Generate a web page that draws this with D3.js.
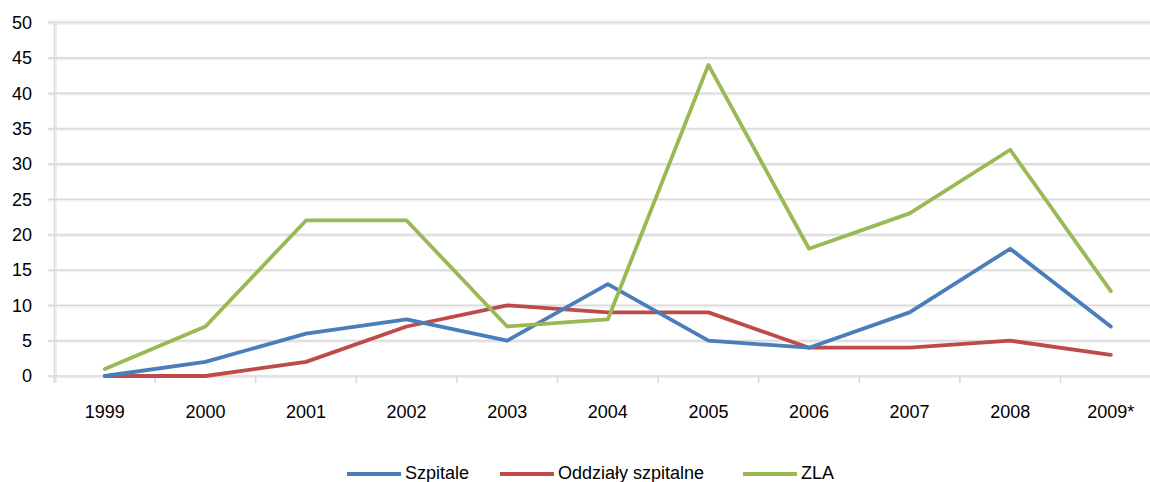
<!DOCTYPE html>
<html><head><meta charset="utf-8">
<script src="https://cdn.jsdelivr.net/npm/d3@7"></script>
<style>body{margin:0;background:#fff}svg{display:block}</style>
</head><body>
<script>
const categories = ["1999","2000","2001","2002","2003","2004","2005","2006","2007","2008","2009*"];
const seriesNames = ["Szpitale","Oddziały szpitalne","ZLA"];
const szpitale = [0,2,6,8,5,13,5,4,9,18,7];
const oddzialy = [0,0,2,7,10,9,9,4,4,5,3];
const zla = [1,7,22,22,7,8,44,18,23,32,12];
const yTicks = [0,5,10,15,20,25,30,35,40,45,50];
const colors = ["#4a7ebb","#be4b48","#98b954"];

const W=1150,H=482;
const svg=d3.select("body").append("svg").attr("width",W).attr("height",H);

const left=54.5, step=100.6;
const x=d3.scaleBand().domain(categories).range([left,left+step*categories.length]).paddingInner(0).paddingOuter(0);
const y=d3.scaleLinear().domain([0,50]).range([376,22.5]);
const font="'Liberation Sans', Arial, sans-serif";
const gridCol="#d9d9d9", shCol="#efefef";

const g=svg.append("g");
g.selectAll("line.gs").data(yTicks).join("line")
 .attr("x1",48).attr("x2",W).attr("y1",d=>y(d)+1.6).attr("y2",d=>y(d)+1.6)
 .attr("stroke",shCol).attr("stroke-width",1.5);
g.append("line").attr("x1",48).attr("x2",W).attr("y1",y(50)-1.8).attr("y2",y(50)-1.8)
 .attr("stroke","#f2f2f2").attr("stroke-width",2);
g.append("line").attr("x1",left+1.8).attr("x2",left+1.8).attr("y1",y(50)).attr("y2",y(0)+7)
 .attr("stroke",shCol).attr("stroke-width",1.5);
g.selectAll("line.grid").data(yTicks).join("line")
 .attr("x1",48).attr("x2",W).attr("y1",d=>y(d)).attr("y2",d=>y(d))
 .attr("stroke",gridCol).attr("stroke-width",1.6);
g.append("line").attr("x1",left).attr("x2",left).attr("y1",y(50)).attr("y2",y(0)+7)
 .attr("stroke",gridCol).attr("stroke-width",1.6);
const bounds=d3.range(categories.length+1).map(i=>left+i*step);
g.selectAll("line.xt").data(bounds).join("line")
 .attr("x1",d=>d).attr("x2",d=>d).attr("y1",y(0)).attr("y2",y(0)+7)
 .attr("stroke",gridCol).attr("stroke-width",1.6);

svg.append("g").selectAll("text").data(yTicks).join("text")
 .attr("x",32).attr("y",d=>y(d)).attr("dy","0.35em").attr("text-anchor","end")
 .attr("font-family",font).attr("font-size",18).attr("fill","#000").text(d=>d);
svg.append("g").selectAll("text").data(categories).join("text")
 .attr("x",d=>x(d)+x.bandwidth()/2).attr("y",418).attr("text-anchor","middle")
 .attr("font-family",font).attr("font-size",18).attr("fill","#000").text(d=>d);

const data=[szpitale,oddzialy,zla];
const line=d3.line().x((d,i)=>x(categories[i])+x.bandwidth()/2).y(d=>y(d));
[1,0,2].forEach(k=>{
  svg.append("path").datum(data[k]).attr("d",line).attr("fill","none")
   .attr("stroke",colors[k]).attr("stroke-width",3.8).attr("stroke-linejoin","round").attr("stroke-linecap","round");
});

const leg=[{x:347,tx:405},{x:500,tx:558},{x:743,tx:801}];
seriesNames.forEach((n,i)=>{
  svg.append("line").attr("x1",leg[i].x).attr("x2",leg[i].x+54).attr("y1",474).attr("y2",474)
   .attr("stroke",colors[i]).attr("stroke-width",3.8);
  svg.append("text").attr("x",leg[i].tx).attr("y",478.5).attr("font-family",font).attr("font-size",18)
   .attr("fill","#000").text(n);
});
</script>
</body></html>
